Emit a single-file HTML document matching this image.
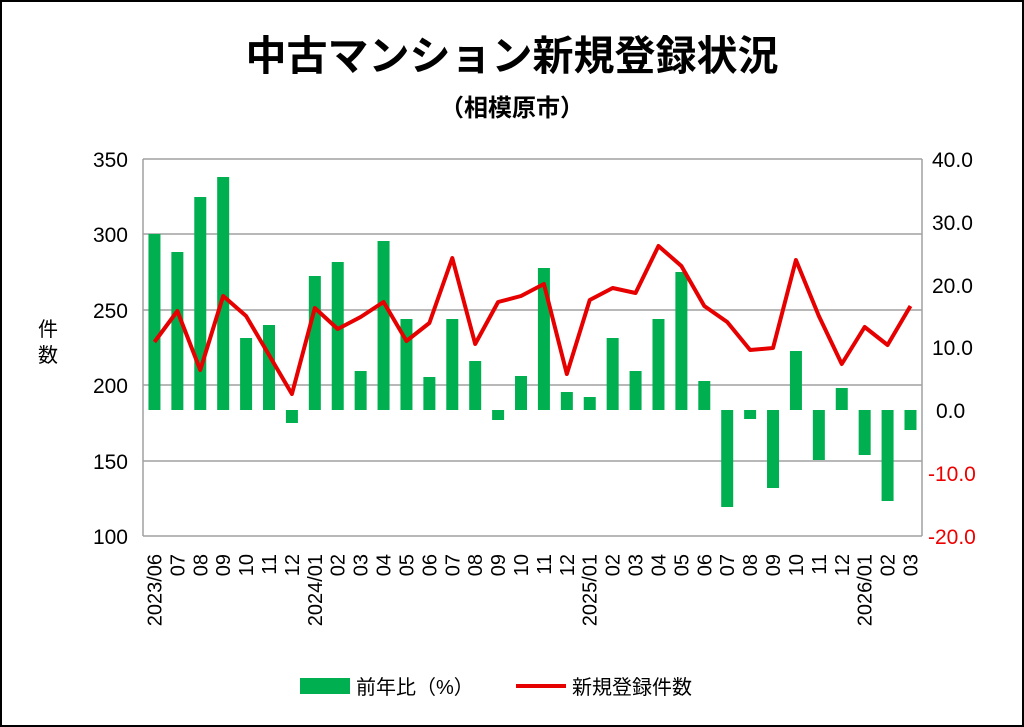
<!DOCTYPE html>
<html><head><meta charset="utf-8"><style>
body{margin:0;background:#fff}
svg{display:block}
text{font-family:"Liberation Sans","Noto Sans CJK JP",sans-serif}
</style></head><body>
<svg width="1024" height="727" xmlns="http://www.w3.org/2000/svg">
<rect x="1" y="1" width="1022" height="725" fill="#fff" stroke="#000" stroke-width="2"/>
<text x="512" y="70" text-anchor="middle" font-size="41" font-weight="bold" font-family="Noto Sans CJK JP,sans-serif">中古マンション新規登録状況</text>
<text x="512" y="116" text-anchor="middle" font-size="24" font-weight="bold" font-family="Noto Sans CJK JP,sans-serif">（相模原市）</text>
<g stroke="#a0a0a0" stroke-width="1.5">
<line x1="143" y1="159" x2="922" y2="159"/><line x1="143" y1="234" x2="922" y2="234"/>
<line x1="143" y1="310" x2="922" y2="310"/><line x1="143" y1="385" x2="922" y2="385"/>
<line x1="143" y1="461" x2="922" y2="461"/><line x1="143" y1="536" x2="922" y2="536"/>
<line x1="143" y1="159" x2="143" y2="536"/><line x1="922" y1="159" x2="922" y2="536"/>
</g>
<g font-size="21" text-anchor="end">
<text x="128" y="167">350</text><text x="128" y="242">300</text><text x="128" y="318">250</text>
<text x="128" y="393">200</text><text x="128" y="469">150</text><text x="128" y="544">100</text>
</g>
<g font-size="21">
<text x="932" y="167">40.0</text><text x="932" y="230">30.0</text><text x="932" y="293">20.0</text>
<text x="932" y="355">10.0</text><text x="936" y="418">0.0</text>
<text x="928" y="481" fill="#e00">-10.0</text><text x="928" y="544" fill="#e00">-20.0</text>
</g>
<text x="48" y="336" font-size="20" text-anchor="middle" font-family="Noto Sans CJK JP,sans-serif">件</text>
<text x="48" y="362" font-size="20" text-anchor="middle" font-family="Noto Sans CJK JP,sans-serif">数</text>
<g id="bars" fill="#00b050"></g>
<polyline id="line" fill="none" stroke="#e60000" stroke-width="4" stroke-linejoin="round"/>
<g id="labels" font-size="20"></g>
<rect x="300" y="678" width="50" height="16" fill="#00b050"/>
<text x="356" y="694" font-size="20" font-family="Noto Sans CJK JP,sans-serif">前年比（%）</text>
<line x1="516" y1="686" x2="566" y2="686" stroke="#e60000" stroke-width="4"/>
<text x="572" y="694" font-size="20" font-family="Noto Sans CJK JP,sans-serif">新規登録件数</text>
</svg>
<script>
var bt=[234,252,197,177,338,325,423,276,262,371,241,319,377,319,361,420,376,268,392,397,338,371,319,272,381,507,419,488,351,460,388,455,501,430];
var ly=[342,311,370,296,316,355,394,308,329,317,302,341,323,258,344,302,296,284,374,300,288,293,246,266,306,322,350,348,260,316,364,327,345,306];
var labs=["2023/06","07","08","09","10","11","12","2024/01","02","03","04","05","06","07","08","09","10","11","12","2025/01","02","03","04","05","06","07","08","09","10","11","12","2026/01","02","03"];
var ns="http://www.w3.org/2000/svg",b=document.getElementById("bars"),L=document.getElementById("labels"),pts=[];
for(var i=0;i<34;i++){var cx=143+(i+0.5)*22.91;
var r=document.createElementNS(ns,"rect");var t=bt[i];
r.setAttribute("x",cx-6);r.setAttribute("width",12);r.setAttribute("y",Math.min(t,410));r.setAttribute("height",Math.abs(t-410));b.appendChild(r);
pts.push(cx+","+ly[i]);
var tx=document.createElementNS(ns,"text");tx.setAttribute("transform","translate("+(cx+7)+",554) rotate(-90)");tx.setAttribute("text-anchor","end");tx.textContent=labs[i];L.appendChild(tx);}
document.getElementById("line").setAttribute("points",pts.join(" "));
</script>
</body></html>
